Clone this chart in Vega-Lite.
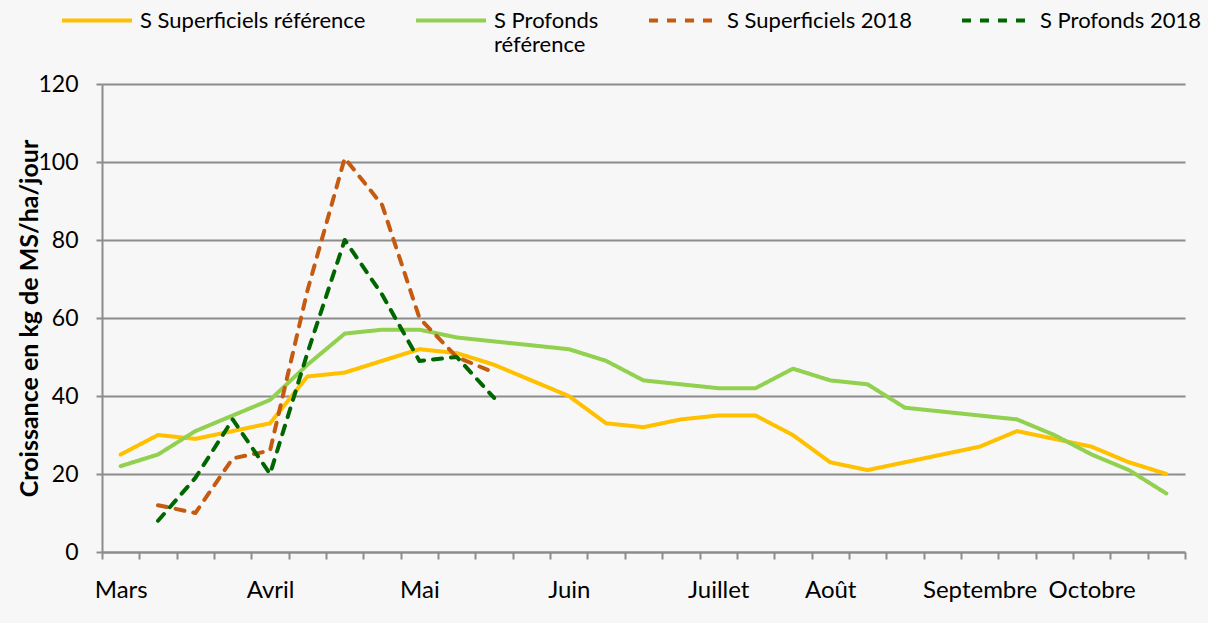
{
  "$schema": "https://vega.github.io/schema/vega-lite/v6.json",
  "width": 1083,
  "height": 468,
  "autosize": {"type": "none"},
  "padding": {"left": 102, "top": 84, "right": 23, "bottom": 71},
  "background": "#f7f7f7",
  "config": {"view": {"stroke": null}, "font": "Lato"},
  "datasets": {
    "pousse": [
      {"serie": "S Superficiels référence", "semaine": 0, "valeur": 25},
      {"serie": "S Superficiels référence", "semaine": 1, "valeur": 30},
      {"serie": "S Superficiels référence", "semaine": 2, "valeur": 29},
      {"serie": "S Superficiels référence", "semaine": 3, "valeur": 31},
      {"serie": "S Superficiels référence", "semaine": 4, "valeur": 33},
      {"serie": "S Superficiels référence", "semaine": 5, "valeur": 45},
      {"serie": "S Superficiels référence", "semaine": 6, "valeur": 46},
      {"serie": "S Superficiels référence", "semaine": 7, "valeur": 49},
      {"serie": "S Superficiels référence", "semaine": 8, "valeur": 52},
      {"serie": "S Superficiels référence", "semaine": 9, "valeur": 51},
      {"serie": "S Superficiels référence", "semaine": 10, "valeur": 48},
      {"serie": "S Superficiels référence", "semaine": 11, "valeur": 44},
      {"serie": "S Superficiels référence", "semaine": 12, "valeur": 40},
      {"serie": "S Superficiels référence", "semaine": 13, "valeur": 33},
      {"serie": "S Superficiels référence", "semaine": 14, "valeur": 32},
      {"serie": "S Superficiels référence", "semaine": 15, "valeur": 34},
      {"serie": "S Superficiels référence", "semaine": 16, "valeur": 35},
      {"serie": "S Superficiels référence", "semaine": 17, "valeur": 35},
      {"serie": "S Superficiels référence", "semaine": 18, "valeur": 30},
      {"serie": "S Superficiels référence", "semaine": 19, "valeur": 23},
      {"serie": "S Superficiels référence", "semaine": 20, "valeur": 21},
      {"serie": "S Superficiels référence", "semaine": 21, "valeur": 23},
      {"serie": "S Superficiels référence", "semaine": 22, "valeur": 25},
      {"serie": "S Superficiels référence", "semaine": 23, "valeur": 27},
      {"serie": "S Superficiels référence", "semaine": 24, "valeur": 31},
      {"serie": "S Superficiels référence", "semaine": 25, "valeur": 29},
      {"serie": "S Superficiels référence", "semaine": 26, "valeur": 27},
      {"serie": "S Superficiels référence", "semaine": 27, "valeur": 23},
      {"serie": "S Superficiels référence", "semaine": 28, "valeur": 20},
      {"serie": "S Profonds référence", "semaine": 0, "valeur": 22},
      {"serie": "S Profonds référence", "semaine": 1, "valeur": 25},
      {"serie": "S Profonds référence", "semaine": 2, "valeur": 31},
      {"serie": "S Profonds référence", "semaine": 3, "valeur": 35},
      {"serie": "S Profonds référence", "semaine": 4, "valeur": 39},
      {"serie": "S Profonds référence", "semaine": 5, "valeur": 48},
      {"serie": "S Profonds référence", "semaine": 6, "valeur": 56},
      {"serie": "S Profonds référence", "semaine": 7, "valeur": 57},
      {"serie": "S Profonds référence", "semaine": 8, "valeur": 57},
      {"serie": "S Profonds référence", "semaine": 9, "valeur": 55},
      {"serie": "S Profonds référence", "semaine": 10, "valeur": 54},
      {"serie": "S Profonds référence", "semaine": 11, "valeur": 53},
      {"serie": "S Profonds référence", "semaine": 12, "valeur": 52},
      {"serie": "S Profonds référence", "semaine": 13, "valeur": 49},
      {"serie": "S Profonds référence", "semaine": 14, "valeur": 44},
      {"serie": "S Profonds référence", "semaine": 15, "valeur": 43},
      {"serie": "S Profonds référence", "semaine": 16, "valeur": 42},
      {"serie": "S Profonds référence", "semaine": 17, "valeur": 42},
      {"serie": "S Profonds référence", "semaine": 18, "valeur": 47},
      {"serie": "S Profonds référence", "semaine": 19, "valeur": 44},
      {"serie": "S Profonds référence", "semaine": 20, "valeur": 43},
      {"serie": "S Profonds référence", "semaine": 21, "valeur": 37},
      {"serie": "S Profonds référence", "semaine": 22, "valeur": 36},
      {"serie": "S Profonds référence", "semaine": 23, "valeur": 35},
      {"serie": "S Profonds référence", "semaine": 24, "valeur": 34},
      {"serie": "S Profonds référence", "semaine": 25, "valeur": 30},
      {"serie": "S Profonds référence", "semaine": 26, "valeur": 25},
      {"serie": "S Profonds référence", "semaine": 27, "valeur": 21},
      {"serie": "S Profonds référence", "semaine": 28, "valeur": 15},
      {"serie": "S Superficiels 2018", "semaine": 1, "valeur": 12},
      {"serie": "S Superficiels 2018", "semaine": 2, "valeur": 10},
      {"serie": "S Superficiels 2018", "semaine": 3, "valeur": 24},
      {"serie": "S Superficiels 2018", "semaine": 4, "valeur": 26},
      {"serie": "S Superficiels 2018", "semaine": 5, "valeur": 67},
      {"serie": "S Superficiels 2018", "semaine": 6, "valeur": 101},
      {"serie": "S Superficiels 2018", "semaine": 7, "valeur": 89},
      {"serie": "S Superficiels 2018", "semaine": 8, "valeur": 60},
      {"serie": "S Superficiels 2018", "semaine": 9, "valeur": 50},
      {"serie": "S Superficiels 2018", "semaine": 10, "valeur": 46},
      {"serie": "S Profonds 2018", "semaine": 1, "valeur": 8},
      {"serie": "S Profonds 2018", "semaine": 2, "valeur": 19},
      {"serie": "S Profonds 2018", "semaine": 3, "valeur": 34},
      {"serie": "S Profonds 2018", "semaine": 4, "valeur": 20},
      {"serie": "S Profonds 2018", "semaine": 5, "valeur": 51},
      {"serie": "S Profonds 2018", "semaine": 6, "valeur": 80},
      {"serie": "S Profonds 2018", "semaine": 7, "valeur": 66},
      {"serie": "S Profonds 2018", "semaine": 8, "valeur": 49},
      {"serie": "S Profonds 2018", "semaine": 9, "valeur": 50},
      {"serie": "S Profonds 2018", "semaine": 10, "valeur": 39.5}
    ]
  },
  "data": {"name": "pousse"},
  "mark": {"type": "line", "strokeWidth": 4, "strokeCap": "round", "strokeJoin": "round"},
  "encoding": {
    "x": {
      "field": "semaine",
      "type": "ordinal",
      "bandPosition": 0.5,
      "scale": {"type": "band", "paddingInner": 0, "paddingOuter": 0},
      "axis": {
        "title": null,
        "tickBand": "extent",
        "grid": false,
        "labelAngle": 0,
        "labelExpr": "datum.value == 0 ? 'Mars' : datum.value == 4 ? 'Avril' : datum.value == 8 ? 'Mai' : datum.value == 12 ? 'Juin' : datum.value == 16 ? 'Juillet' : datum.value == 19 ? 'Août' : datum.value == 23 ? 'Septembre' : datum.value == 26 ? 'Octobre' : ''",
        "labelFontSize": 24,
        "labelColor": "#000000",
        "labelPadding": 19,
        "labelOverlap": false,
        "tickSize": 7,
        "tickWidth": 2,
        "tickColor": "#8c8c8c",
        "domainColor": "#8c8c8c",
        "domainWidth": 2
      }
    },
    "y": {
      "field": "valeur",
      "type": "quantitative",
      "scale": {"domain": [0, 120]},
      "axis": {
        "values": [0, 20, 40, 60, 80, 100, 120],
        "title": "Croissance en kg de MS/ha/jour",
        "titleFontSize": 25,
        "titleFontWeight": "bold",
        "titleColor": "#000000",
        "titleX": -65,
        "titleBaseline": "alphabetic",
        "labelFontSize": 23,
        "labelColor": "#000000",
        "labelPadding": 18,
        "tickSize": 6,
        "tickWidth": 2,
        "tickColor": "#8c8c8c",
        "domainColor": "#8c8c8c",
        "domainWidth": 2,
        "grid": true,
        "gridColor": "#8c8c8c",
        "gridWidth": 2
      }
    },
    "color": {
      "field": "serie",
      "type": "nominal",
      "scale": {
        "domain": ["S Superficiels référence", "S Profonds référence", "S Superficiels 2018", "S Profonds 2018"],
        "range": ["#FFC000", "#92D050", "#C55A11", "#006600"]
      },
      "legend": {
        "orient": "none",
        "legendX": -42,
        "legendY": -110,
        "direction": "horizontal",
        "title": null,
        "symbolType": "M-1,0.27H1",
        "symbolSize": 4900,
        "symbolStrokeWidth": 4,
        "labelFontSize": 22,
        "labelColor": "#000000",
        "labelBaseline": "top",
        "labelOffset": 6,
        "labelLimit": 400,
        "columnPadding": 42,
        "labelExpr": "datum.label == 'S Profonds référence' ? ['S Profonds', 'référence'] : [datum.label, '']"
      }
    },
    "strokeDash": {
      "field": "serie",
      "type": "nominal",
      "scale": {
        "domain": ["S Superficiels référence", "S Profonds référence", "S Superficiels 2018", "S Profonds 2018"],
        "range": [[1, 0], [1, 0], [9, 9], [9, 9]]
      },
      "legend": {
        "orient": "none",
        "legendX": -42,
        "legendY": -110,
        "direction": "horizontal",
        "title": null,
        "symbolType": "M-1,0.27H1",
        "symbolSize": 4900,
        "symbolStrokeWidth": 4,
        "labelFontSize": 22,
        "labelColor": "#000000",
        "labelBaseline": "top",
        "labelOffset": 6,
        "labelLimit": 400,
        "columnPadding": 42,
        "labelExpr": "datum.label == 'S Profonds référence' ? ['S Profonds', 'référence'] : [datum.label, '']"
      }
    }
  }
}
